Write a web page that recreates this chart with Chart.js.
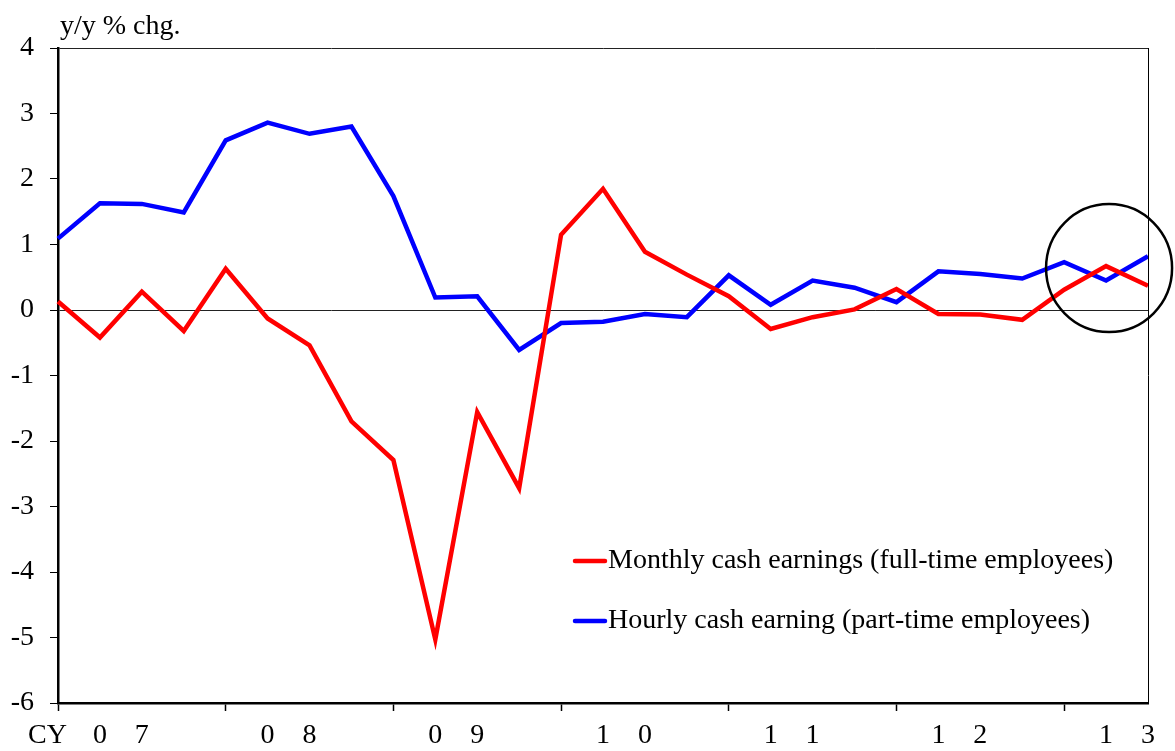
<!DOCTYPE html>
<html>
<head>
<meta charset="utf-8">
<script src="https://cdn.jsdelivr.net/npm/chart.js@4.4.1/dist/chart.umd.min.js"></script>
<style>
  body { margin: 0; background: #fff; }
</style>
</head>
<body>
<canvas id="wageChart" width="1175" height="751"></canvas>
<script>
// Quarterly data, CY2007 Q1 .. CY2013 Q3
const years = ['07', '08', '09', '10', '11', '12', '13'];
const monthlyFullTime = [0.13, -0.42, 0.28, -0.32, 0.63, -0.13, -0.54, -1.70, -2.29, -5.03, -1.56, -2.72, 1.15, 1.85,
    0.89, 0.54, 0.21, -0.29, -0.11, 0.01, 0.32, -0.06, -0.07, -0.15, 0.31, 0.67, 0.37];
const hourlyPartTime = [1.09, 1.63, 1.62, 1.49, 2.59, 2.86, 2.69, 2.80, 1.74, 0.19, 0.21, -0.61, -0.20, -0.18,
    -0.06, -0.11, 0.53, 0.08, 0.45, 0.34, 0.12, 0.59, 0.55, 0.48, 0.73, 0.45, 0.82];
const seriesNames = ['Monthly cash earnings (full-time employees)', 'Hourly cash earning (part-time employees)'];
const yMin = -6, yMax = 4;

const FONT = 'Liberation Serif, Times New Roman, serif';

// one label per quarter: year digits spread over Q2 and Q3, "CY" at the start
const quarterLabels = monthlyFullTime.map(() => '');
years.forEach((yr, i) => {
    if (4 * i + 1 < quarterLabels.length) quarterLabels[4 * i + 1] = yr[0];
    if (4 * i + 2 < quarterLabels.length) quarterLabels[4 * i + 2] = yr[1];
});
quarterLabels[0] = 'CY   '; // trailing spaces nudge it left of the axis

// frame, unit label, legend and the highlight circle
const extras = {
    id: 'extras',
    afterDraw(chart) {
        const { ctx, chartArea: a, scales } = chart;
        ctx.save();
        // right border
        ctx.strokeStyle = '#000';
        ctx.lineWidth = 1;
        ctx.beginPath();
        ctx.moveTo(a.right + 0.5, a.top);
        ctx.lineTo(a.right + 0.5, a.bottom);
        ctx.stroke();

        // unit label
        ctx.fillStyle = '#000';
        ctx.font = '28px ' + FONT;
        ctx.textBaseline = 'alphabetic';
        ctx.fillText('y/y % chg.', a.left + 2, a.top - 14);

        // legend
        chart.data.datasets.forEach((ds, i) => {
            const y = a.top + 513 + i * 60;
            ctx.strokeStyle = ds.borderColor;
            ctx.lineWidth = 4.5;
            ctx.lineCap = 'round';
            ctx.beginPath();
            ctx.moveTo(a.left + 517, y);
            ctx.lineTo(a.left + 547, y);
            ctx.stroke();
            ctx.fillStyle = '#000';
            ctx.textBaseline = 'middle';
            ctx.fillText(ds.label, a.left + 550, y);
        });

        // circle round the latest quarters
        const cx = scales.x.getPixelForValue(25) + 3;
        const cy = scales.y.getPixelForValue(0.64);
        ctx.strokeStyle = '#000';
        ctx.lineWidth = 2.5;
        ctx.beginPath();
        ctx.ellipse(cx, cy, 63, 64, 0, 0, Math.PI * 2);
        ctx.stroke();
        ctx.restore();
    }
};

document.addEventListener('DOMContentLoaded', () => {
    const ctx = document.getElementById('wageChart').getContext('2d');

    new Chart(ctx, {
        type: 'line',
        data: {
            labels: quarterLabels,
            datasets: [{
                label: seriesNames[0],
                data: monthlyFullTime,
                borderColor: '#ff0000',
                borderWidth: 4.5,
                pointRadius: 0,
                tension: 0
            }, {
                label: seriesNames[1],
                data: hourlyPartTime,
                borderColor: '#0000ff',
                borderWidth: 4.5,
                pointRadius: 0,
                tension: 0
            }]
        },
        options: {
            responsive: false,
            animation: false,
            layout: { padding: { top: 48, right: 27, left: 0, bottom: 0 } },
            plugins: {
                legend: { display: false },
                tooltip: { enabled: false }
            },
            scales: {
                x: {
                    type: 'category',
                    offset: false,
                    afterFit: s => { s.height = 48; },
                    grid: {
                        drawOnChartArea: false,
                        tickLength: 8,
                        tickWidth: 1.5,
                        tickColor: c => (c.index % 4 === 0 ? '#000' : 'rgba(0,0,0,0)')
                    },
                    border: { color: '#000', width: 2.5 },
                    ticks: {
                        autoSkip: false,
                        maxRotation: 0,
                        padding: 8,
                        color: '#000',
                        font: { family: FONT, size: 28 }
                    }
                },
                y: {
                    min: yMin,
                    max: yMax,
                    afterFit: s => { s.width = 58; },
                    grid: {
                        color: c => (c.tick && (c.tick.value === 0 || c.tick.value === yMax) ? '#222' : 'rgba(0,0,0,0)'),
                        lineWidth: 1,
                        tickColor: '#000',
                        tickLength: 8
                    },
                    border: { color: '#000', width: 2.5 },
                    ticks: {
                        stepSize: 1,
                        padding: 16,
                        color: '#000',
                        font: { family: FONT, size: 28 }
                    }
                }
            }
        },
        plugins: [extras]
    });
});
</script>
</body>
</html>
